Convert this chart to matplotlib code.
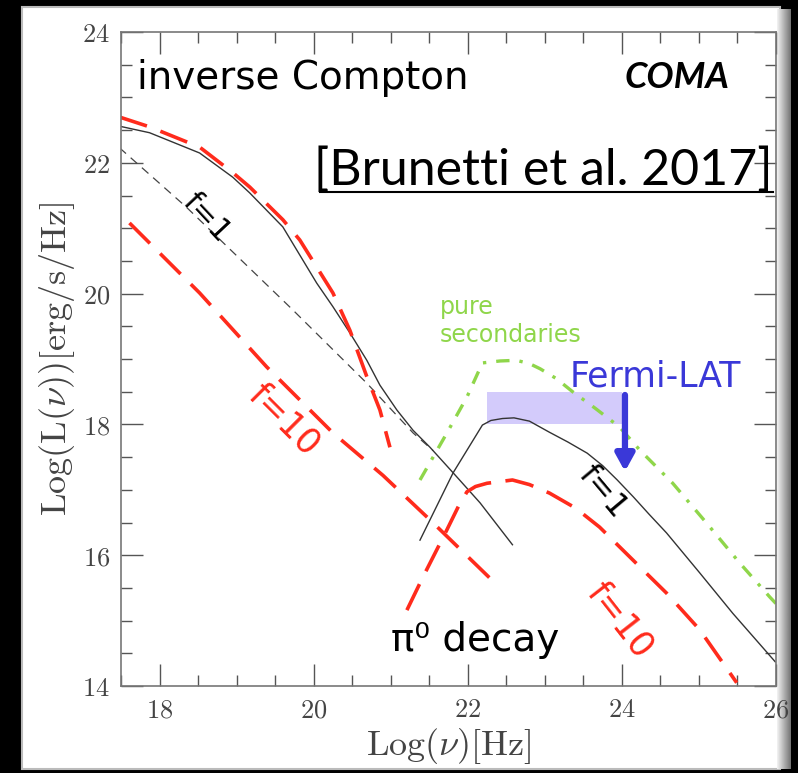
import numpy as np
import matplotlib
matplotlib.use("Agg")
import matplotlib.pyplot as plt
from matplotlib.patches import Rectangle
from matplotlib.ticker import MultipleLocator, FuncFormatter

plt.rcParams['mathtext.fontset'] = 'cm'

W, H = 798, 773

# ---- curves (log nu, log L) ----
ic_f1_x = [17.48, 17.87, 18.52, 18.95, 19.17, 19.60, 20.04, 20.25, 20.47, 20.69, 20.86,
           21.08, 21.29, 21.51, 21.81, 22.16, 22.58]
ic_f1_y = [22.56, 22.46, 22.15, 21.78, 21.54, 21.02, 20.16, 19.80, 19.40, 18.98, 18.60,
           18.22, 17.91, 17.65, 17.26, 16.80, 16.16]

ic_prim_x = [17.48, 18.35, 19.73, 20.69, 21.29, 21.55]
ic_prim_y = [22.23, 21.32, 19.75, 18.63, 17.87, 17.60]

ic_f1r_x = [17.48, 17.87, 18.52, 18.95, 19.17, 19.60, 19.82, 20.25, 20.47, 20.69, 20.86, 20.99]
ic_f1r_y = [22.70, 22.55, 22.24, 21.85, 21.63, 21.13, 20.82, 20.01, 19.44, 18.73, 18.22, 17.65]

ic_f10_x = [17.61, 18.52, 19.39, 20.25, 20.90, 21.51, 22.40]
ic_f10_y = [21.08, 20.01, 18.88, 17.87, 17.22, 16.54, 15.52]

pi_f1_x = [21.38, 21.81, 22.19, 22.30, 22.45, 22.60, 22.80, 23.06, 23.30, 23.55, 23.75, 23.94,
           24.15, 24.35, 24.58, 25.01, 25.44, 25.99]
pi_f1_y = [16.23, 17.26, 17.99, 18.06, 18.09, 18.10, 18.05, 17.88, 17.73, 17.56, 17.37, 17.15,
           16.89, 16.63, 16.34, 15.73, 15.11, 14.37]

pi_f10_x = [21.21, 21.42, 21.73, 21.88, 21.99, 22.10, 22.25, 22.58, 22.80, 23.06, 23.40, 23.71,
            24.14, 24.58, 25.01, 25.49]
pi_f10_y = [15.16, 15.67, 16.39, 16.75, 16.97, 17.05, 17.10, 17.15, 17.08, 16.95, 16.72, 16.43,
            15.93, 15.42, 14.86, 14.05]

sec_x = [21.38, 21.73, 21.99, 22.19, 22.42, 22.63, 22.80, 22.94, 23.15, 23.36, 23.65, 23.97,
         24.23, 24.66, 25.10, 25.53, 25.92, 26.0]
sec_y = [17.15, 17.87, 18.42, 18.94, 18.97, 18.98, 18.93, 18.85, 18.70, 18.50, 18.25, 17.96,
         17.61, 17.10, 16.49, 15.88, 15.36, 15.26]

# Fermi-LAT upper limit box and arrow
lat_x = (22.25, 24.0)
lat_y = (18.0, 18.5)
lat_arrow_x = 24.04
lat_arrow_y = (18.45, 17.28)

RED = '#ff2b1c'
GREEN = '#8fd64a'
BLUE = '#3a38d8'


def px(x0, y0, x1, y1):
    # pixel box (top-left origin) -> figure fraction rect
    return (x0 / W, 1 - y1 / H, (x1 - x0) / W, (y1 - y0) / H)


fig = plt.figure(figsize=(W / 100, H / 100), dpi=100, facecolor='black')

# white slide panel with a bevelled right edge
l, b, w, h = px(22, 7, 780, 769)
panel = Rectangle((l, b), w, h, transform=fig.transFigure,
                  facecolor='white', edgecolor='#bbbbbb', lw=1.5, zorder=-5)
fig.add_artist(panel)
bev = fig.add_axes(px(777, 9, 791, 769), zorder=-1)
grad = np.linspace(0.95, 0.45, 40)[None, :]
bev.imshow(grad, cmap='gray', vmin=0, vmax=1, aspect='auto')
bev.axis('off')

ax = fig.add_axes(px(121, 32, 776, 686), zorder=1)
ax.set_facecolor('none')
ax.set_xlim(17.5, 26)
ax.set_ylim(14, 24)

ax.plot(ic_prim_x, ic_prim_y, color='#444444', lw=0.9, ls=(0, (7, 5)))
ax.plot(ic_f1_x, ic_f1_y, color='#333333', lw=1.0)
ax.plot(ic_f1r_x, ic_f1r_y, color=RED, lw=2.6, ls=(0, (8, 4)))
ax.plot(ic_f10_x, ic_f10_y, color=RED, lw=2.6, ls=(0, (8, 4)))
ax.plot(pi_f1_x, pi_f1_y, color='#333333', lw=1.0)
ax.plot(pi_f10_x, pi_f10_y, color=RED, lw=2.6, ls=(0, (8, 4)))
ax.plot(sec_x, sec_y, color=GREEN, lw=2.4, ls=(0, (4, 3, 1, 3)))

ax.add_patch(Rectangle((lat_x[0], lat_y[0]), lat_x[1] - lat_x[0], lat_y[1] - lat_y[0],
                       facecolor='#d3cbfb', edgecolor='none', zorder=0.8))
ax.annotate('', xy=(lat_arrow_x, lat_arrow_y[1]), xytext=(lat_arrow_x, lat_arrow_y[0]),
            arrowprops=dict(arrowstyle='-|>,head_width=0.55,head_length=1.0',
                            color=BLUE, lw=4.5, shrinkA=0, shrinkB=0))

# axes styling
for s in ax.spines.values():
    s.set_color('#777777')
    s.set_linewidth(1.2)
ax.xaxis.set_major_locator(MultipleLocator(2))
ax.xaxis.set_minor_locator(MultipleLocator(0.5))
ax.yaxis.set_major_locator(MultipleLocator(2))
ax.yaxis.set_minor_locator(MultipleLocator(0.5))
ax.tick_params(which='both', direction='in', top=True, right=True, colors='#555555')
ax.tick_params(which='major', length=16, width=1.0, labelsize=19, pad=8)
ax.tick_params(which='minor', length=8, width=1.0)
fmt = FuncFormatter(lambda v, p: r'$%d$' % round(v))
ax.xaxis.set_major_formatter(fmt)
ax.yaxis.set_major_formatter(fmt)
for t in ax.get_xticklabels() + ax.get_yticklabels():
    t.set_color('#444444')

ax.set_xlabel(r'$\mathrm{Log}(\nu)[\mathrm{Hz}]$', fontsize=26, color='#444444', labelpad=2)
ax.set_ylabel(r'$\mathrm{Log}(\mathrm{L}(\nu))[\mathrm{erg/s/Hz}]$', fontsize=26,
              color='#444444', labelpad=4)

# labels
hand = 'DejaVu Sans'
ax.text(17.71, 23.30, 'inverse Compton', fontsize=28, family=hand, va='center', ha='left')
ax.text(24.71, 23.31, 'COMA', fontsize=26, family='Lato', weight='bold', style='italic',
        va='center', ha='center')
ax.text(25.96, 21.66, '[Brunetti et al. 2017]', fontsize=36, family='Lato',
        va='baseline', ha='right')
ax.plot([20.08, 25.96], [21.55, 21.55], color='black', lw=1.5, clip_on=False)

ax.text(18.61, 21.16, 'f=1', fontsize=22, family=hand, rotation=-47, ha='center', va='center')
ax.text(19.62, 18.07, 'f=10', fontsize=25, family=hand, rotation=-45, ha='center', va='center',
        color=RED)
ax.text(21.64, 19.80, 'pure', fontsize=17, family=hand, ha='left', va='center', color=GREEN)
ax.text(21.64, 19.37, 'secondaries', fontsize=17, family=hand, ha='left', va='center', color=GREEN)
ax.text(24.43, 18.74, 'Fermi-LAT', fontsize=25, family=hand, ha='center', va='center', color=BLUE)
ax.text(23.75, 16.97, 'f=1', fontsize=23, family=hand, rotation=-50, ha='center', va='center')
ax.text(23.97, 15.01, 'f=10', fontsize=25, family=hand, rotation=-52, ha='center', va='center',
        color=RED)
ax.text(21.0, 14.70, 'π⁰ decay', fontsize=28, family=hand, ha='left', va='center')

fig.savefig('out.png', dpi=100, facecolor='black')
